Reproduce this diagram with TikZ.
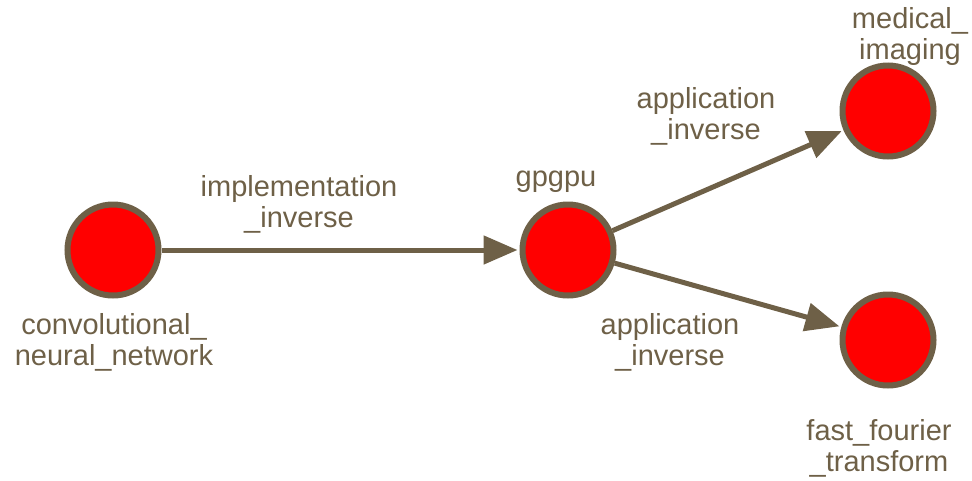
\documentclass[tikz,border=0pt]{standalone}
\usepackage{fontspec}
\setmainfont{Liberation Sans}
\usepackage{tikz}
\usetikzlibrary{arrows.meta}
\definecolor{edgec}{HTML}{6E6047}
\definecolor{nodefill}{HTML}{FF0000}
\definecolor{labc}{HTML}{6E6047}
\tikzset{
  concept/.style={circle, draw=edgec, line width=6pt, fill=nodefill, minimum size=91pt, inner sep=0pt},
  rel/.style={draw=edgec, line width=5pt, shorten >=2pt, -{Triangle[length=34pt,width=28pt]}},
  lab/.style={text=labc, align=center, inner sep=0pt, font=\fontsize{29}{31}\selectfont}
}
\begin{document}
\begin{tikzpicture}[x=1pt, y=-1pt]
  \useasboundingbox (0,0) rectangle (972,480);

  % concepts
  \node[concept] (cnn) at (113,250) {};
  \node[concept] (gpgpu) at (568,250) {};
  \node[concept] (mi) at (888,111) {};
  \node[concept] (fft) at (888,340) {};

  % relations
  \draw[rel] (cnn) -- (gpgpu);
  \draw[rel] (gpgpu) -- (mi);
  \draw[rel] (gpgpu) -- (fft);

  % node labels
  \node[lab] (cnnlab) at (114,342) {convolutional\_\\neural\_network};
  \node[lab] (gpgpulab) at (556,182) {gpgpu};
  \node[lab] (milab) at (910,36) {medical\_\\imaging};
  \node[lab] (fftlab) at (879,448) {fast\_fourier\\\_transform};

  % relation labels
  \node[lab] (rel1lab) at (299,204) {implementation\\\_inverse};
  \node[lab] (rel2lab) at (706,116) {application\\\_inverse};
  \node[lab] (rel3lab) at (670,342) {application\\\_inverse};
\end{tikzpicture}
\end{document}
